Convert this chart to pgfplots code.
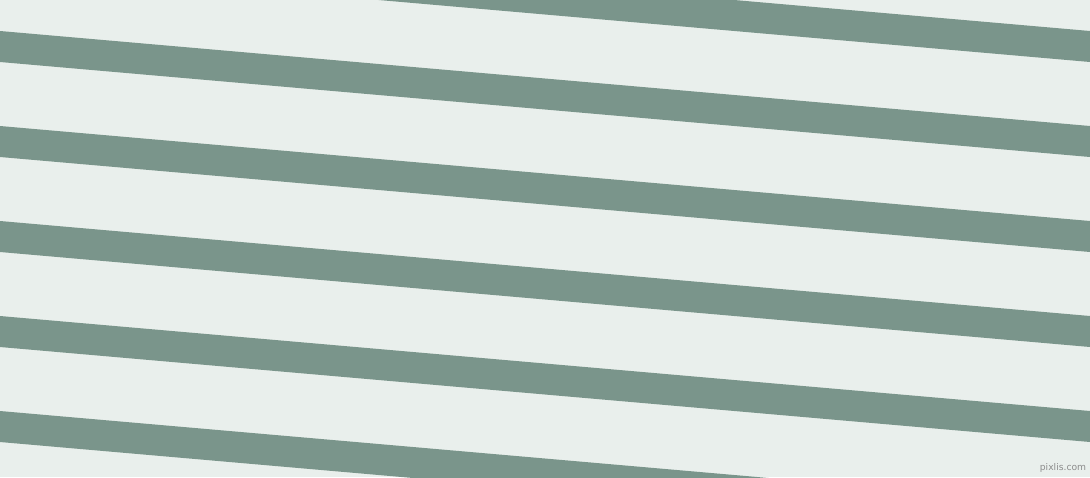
\documentclass[border=0pt]{standalone}
\usepackage{fontspec}
\setmainfont{DejaVu Sans}
\usepackage{pgfplots}
\pgfplotsset{compat=1.18}
\definecolor{bgc}{HTML}{E9EFEC}
\definecolor{stripe}{HTML}{7A958B}
\begin{document}
\begin{tikzpicture}
\begin{axis}[
  scale only axis,
  width=545pt, height=238.5pt,
  xmin=0, xmax=1090, ymin=0, ymax=477,
  y dir=reverse,
  hide axis,
  clip=true,
]
% background
\addplot[fill=bgc, draw=none] coordinates {(0,0) (1090,0) (1090,477) (0,477)};
% stripes: top edge at x=0, drop of 95 px across, 31 px thick
\addplot[fill=stripe, draw=none] coordinates {(0,-64) (1090,31) (1090,62) (0,-33)};
\addplot[fill=stripe, draw=none] coordinates {(0,31) (1090,126) (1090,157) (0,62)};
\addplot[fill=stripe, draw=none] coordinates {(0,126) (1090,221) (1090,252) (0,157)};
\addplot[fill=stripe, draw=none] coordinates {(0,221) (1090,316) (1090,347) (0,252)};
\addplot[fill=stripe, draw=none] coordinates {(0,316) (1090,411) (1090,442) (0,347)};
\addplot[fill=stripe, draw=none] coordinates {(0,411) (1090,506) (1090,537) (0,442)};
\node[text=black!45, font=\fontsize{4.6}{5}\selectfont, inner sep=0pt] at (axis cs:1063,468) {pixlis.com};
\end{axis}
\pgfresetboundingbox
\useasboundingbox (current axis.south west) rectangle (current axis.north east);
\end{tikzpicture}
\end{document}
